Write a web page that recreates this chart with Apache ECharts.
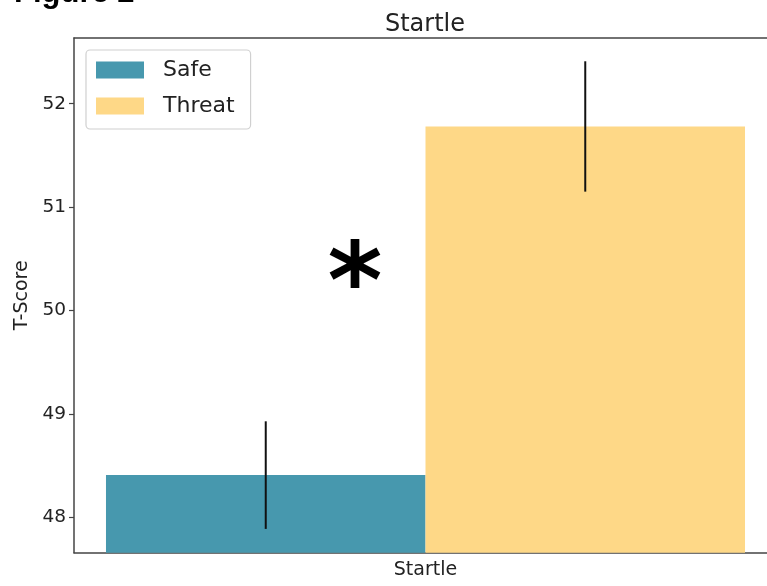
<!DOCTYPE html>
<html>
<head>
<meta charset="utf-8">
<script src="https://cdn.jsdelivr.net/npm/echarts@6/dist/echarts.min.js"></script>
<style>
html,body{margin:0;padding:0;background:#fff;}
#chart{width:767px;height:586px;}
</style>
</head>
<body>
<div id="chart"></div>
<script>
const categories = ['Startle'];
const groups = ['Safe', 'Threat'];
const means = [48.41, 51.78];
const errors = [0.52, 0.63];
const yTicks = [48, 49, 50, 51, 52];
const yMin = 47.66;
const yMax = 52.635;
const groupColors = ['#4798ae', '#fed887'];
const catGap = 0.091;

const chart = echarts.init(document.getElementById('chart'));

const barSeries = groups.map((g, i) => ({
  name: g,
  type: 'bar',
  data: [means[i]],
  barGap: '0%',
  barCategoryGap: (catGap * 100) + '%',
  itemStyle: { color: groupColors[i] },
  emphasis: { disabled: true },
  z: 2
}));

const errData = groups.map((g, i) => [0, means[i], errors[i], i]);

const errSeries = {
  type: 'custom',
  name: 'err',
  data: errData,
  z: 5,
  renderItem: function (params, api) {
    const cat = api.value(0);
    const m = api.value(1);
    const e = api.value(2);
    const gi = api.value(3);
    const band = api.size([1, 0])[0];
    const bw = band * (1 - catGap) / groups.length;
    const cx = api.coord([cat, m])[0] + (gi - (groups.length - 1) / 2) * bw;
    const top = api.coord([cat, m + e])[1];
    const bot = api.coord([cat, m - e])[1];
    return {
      type: 'line',
      shape: { x1: cx, y1: top, x2: cx, y2: bot },
      style: { stroke: '#111', lineWidth: 2 }
    };
  }
};

const axisColor = '#444';

chart.setOption({
  animation: false,
  backgroundColor: '#fff',
  title: {
    text: 'Startle',
    left: 420,
    textAlign: 'center',
    top: 8,
    textStyle: { fontFamily: 'DejaVu Sans', fontSize: 24, fontWeight: 'normal', color: '#222' }
  },
  grid: {
    left: 74, top: 38, width: 703, height: 514.7,
    outerBoundsMode: 'none',
    show: false, containLabel: false
  },
  legend: {
    data: groups,
    orient: 'vertical',
    left: 86, top: 50,
    icon: 'rect',
    itemWidth: 48, itemHeight: 17, itemGap: 14,
    padding: [9, 16, 12, 10],
    borderColor: '#d0d0d0', borderWidth: 1.2, borderRadius: 4,
    backgroundColor: '#fff',
    textStyle: { fontFamily: 'DejaVu Sans', fontSize: 22, color: '#222', padding: [0, 0, 0, 14] },
    selectedMode: false
  },
  xAxis: [
    {
      type: 'category',
      data: categories,
      boundaryGap: true,
      axisLine: { lineStyle: { color: axisColor, width: 1.5 } },
      axisTick: { alignWithLabel: true, length: 5, lineStyle: { color: axisColor, width: 1.2 } },
      axisLabel: { fontFamily: 'DejaVu Sans', fontSize: 19, color: '#222', margin: 8 },
      splitLine: { show: false }
    },
    {
      type: 'category',
      data: categories,
      position: 'top',
      axisLine: { show: true, lineStyle: { color: axisColor, width: 1.5 } },
      axisTick: { show: false },
      axisLabel: { show: false },
      splitLine: { show: false }
    }
  ],
  yAxis: {
    type: 'value',
    min: yMin, max: yMax,
    name: 'T-Score',
    nameLocation: 'middle',
    nameGap: 36,
    nameTextStyle: { fontFamily: 'DejaVu Sans', fontSize: 19, color: '#222' },
    axisLine: { show: true, lineStyle: { color: axisColor, width: 1.5 } },
    axisTick: { show: true, length: 5, customValues: yTicks, lineStyle: { color: axisColor, width: 1.2 } },
    axisLabel: { customValues: yTicks, fontFamily: 'DejaVu Sans', fontSize: 18.5, color: '#222', margin: 8 },
    splitLine: { show: false }
  },
  graphic: [
    {
      type: 'text',
      left: 14, top: -22,
      style: { text: 'Figure 2', fontFamily: 'Liberation Sans', fontWeight: 'bold', fontSize: 31, fill: '#000' }
    },
    {
      type: 'text',
      x: 355, y: 290,
      style: { text: '*', fontFamily: 'DejaVu Sans', fontWeight: 'bold', fontSize: 105, fill: '#000', align: 'center', verticalAlign: 'middle' }
    }
  ],
  series: barSeries.concat([errSeries])
});
</script>
</body>
</html>
